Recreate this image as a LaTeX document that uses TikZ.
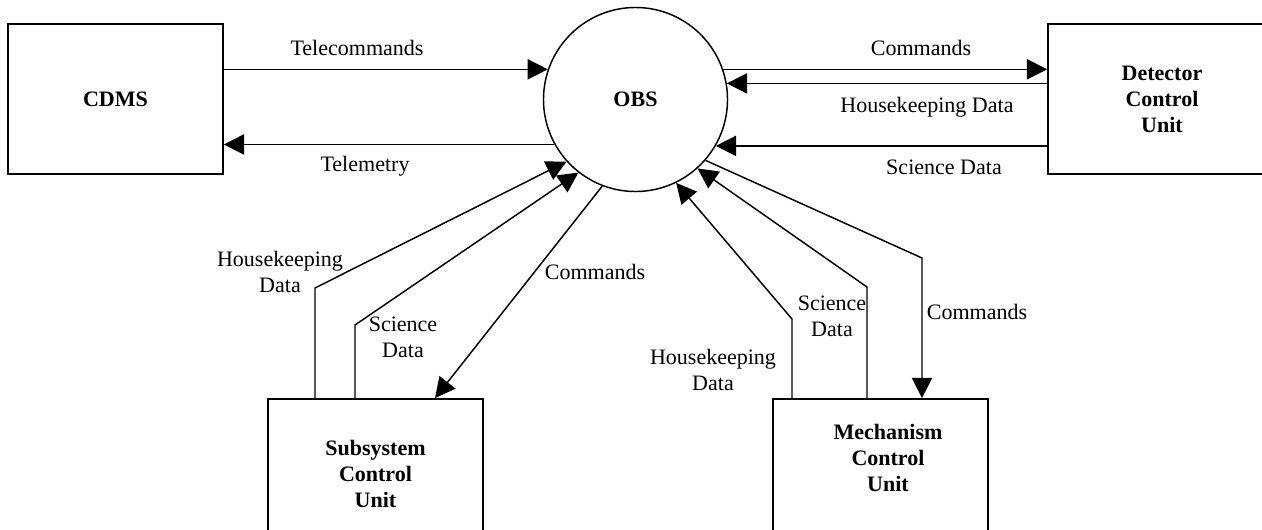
\documentclass[tikz,border=0pt]{standalone}
\usepackage{fontspec}
\setmainfont{Liberation Serif}
\usetikzlibrary{arrows.meta}

\begin{document}
\begin{tikzpicture}[
  x=0.545pt, y=-0.545pt,
  font=\fontsize{12}{14.2}\selectfont,
  unit/.style={rectangle, draw, line width=0.9pt, minimum width=117.2pt, minimum height=81.8pt, inner sep=0pt, align=center, font=\fontsize{12}{14.2}\selectfont\bfseries},
  proc/.style={circle, draw, line width=0.8pt, minimum size=100.3pt, inner sep=0pt, font=\fontsize{12}{14.2}\selectfont\bfseries},
  flow/.style={align=center, inner sep=1pt},
  arr/.style={-{Triangle[length=11pt, width=11pt]}, line width=0.8pt}
]
\useasboundingbox (0,0) rectangle (1262,530);
% on-board software and the units round it
\node[proc] (obs) at (635.5,99.5) {OBS};
\node[unit] (cdms) at (115.5,99) {CDMS};
\node[unit, minimum width=124.3pt] (dcu) at (1162,99) {Detector\\Control\\Unit};
\node[unit] (scu) at (375.5,474) {Subsystem\\Control\\Unit};
\node[unit] (mcu) at (880.5,474) {};
\node[align=center, font=\fontsize{12}{14.2}\selectfont\bfseries] (mcutxt) at (888,458) {Mechanism\\Control\\Unit};
% bends of the lower flows
\coordinate (hks) at (315,288);
\coordinate (scs) at (355,325);
\coordinate (cms) at (435,399);
\coordinate (hkm) at (792,319);
\coordinate (scm) at (867,287);
\coordinate (cmm) at (922,258);
% flows
\draw[arr] (cdms.east |- obs.161) -- (obs.161);
\draw[arr] (obs.209) -- (obs.209 -| cdms.east);
\draw[arr] (obs.19) -- (obs.19 -| dcu.west);
\draw[arr] (dcu.west |- obs.10) -- (obs.10);
\draw[arr] (dcu.west |- obs.330) -- (obs.330);
\draw[arr] (hks |- scu.north) -- (hks) -- (obs.222);
\draw[arr] (scs |- scu.north) -- (scs) -- (obs.232);
\draw[arr] (obs.249) -- (cms |- scu.north);
\draw[arr] (hkm |- mcu.north) -- (hkm) -- (obs.296);
\draw[arr] (scm |- mcu.north) -- (scm) -- (obs.312);
\draw[arr] (obs.319) -- (cmm) -- (cmm |- mcu.north);
% flow labels
\node[flow] (ltc) at (357,48) {Telecommands};
\node[flow] (ltm) at (365,166) {Telemetry};
\node[flow] (ldc) at (921,48) {Commands};
\node[flow] (ldh) at (927,107) {Housekeeping Data};
\node[flow] (lds) at (944,167) {Science Data};
\node[flow] (lsh) at (280,272) {Housekeeping\\Data};
\node[flow] (lss) at (403,337) {Science\\Data};
\node[flow] (lsc) at (595,272) {Commands};
\node[flow] (lms) at (832,316) {Science\\Data};
\node[flow] (lmh) at (713,370) {Housekeeping\\Data};
\node[flow] (lmc) at (977,312) {Commands};
\end{tikzpicture}
\end{document}
